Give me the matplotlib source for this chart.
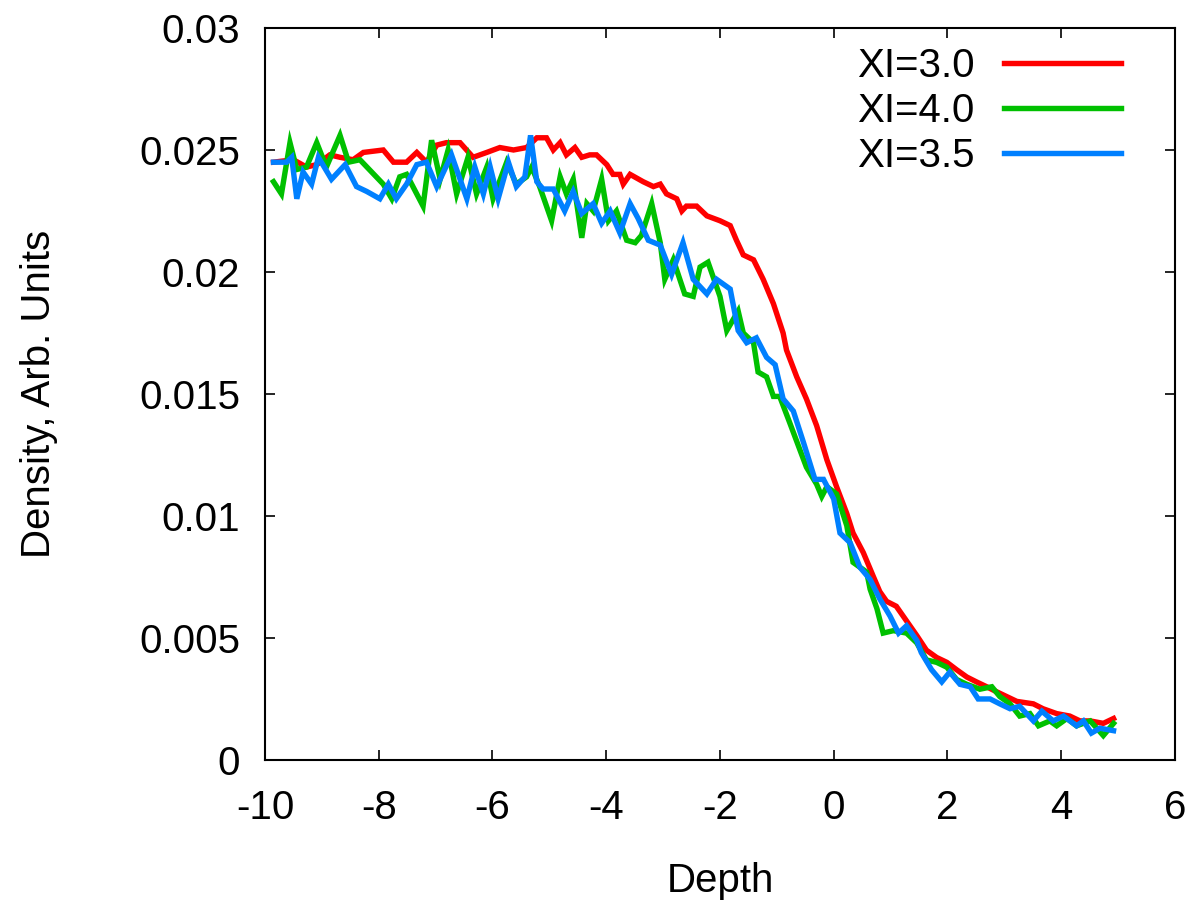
import matplotlib
matplotlib.use("Agg")
import matplotlib.pyplot as plt
from matplotlib.ticker import FuncFormatter

# --------------------------------------------------
# Data
# --------------------------------------------------
x_red = [-9.85, -9.50, -9.27, -9.09, -8.86, -8.68, -8.45, -8.27, -7.92, -7.74,
         -7.51, -7.33, -7.16, -6.98, -6.81, -6.57, -6.34, -6.10, -5.87, -5.63,
         -5.40, -5.22, -5.05, -4.93, -4.81, -4.70, -4.55, -4.43, -4.29, -4.17,
         -3.99, -3.88, -3.76, -3.70, -3.58, -3.35, -3.17, -3.05, -2.94, -2.76,
         -2.67, -2.59, -2.41, -2.23, -2.00, -1.82, -1.71, -1.59, -1.41, -1.24,
         -1.06, -0.89, -0.83, -0.65, -0.48, -0.30, -0.12, 0.05, 0.23, 0.34,
         0.52, 0.70, 0.81, 0.93, 1.10, 1.28, 1.46, 1.63, 1.81, 1.99,
         2.16, 2.34, 2.51, 2.69, 2.86, 3.04, 3.22, 3.51, 3.68, 3.92,
         4.15, 4.33, 4.51, 4.74, 4.92]
y_red = [0.0245, 0.0246, 0.0243, 0.0244, 0.0248, 0.0247, 0.0246, 0.0249, 0.0250, 0.0245,
         0.0245, 0.0249, 0.0245, 0.0252, 0.0253, 0.0253, 0.0247, 0.0249, 0.0251, 0.0250,
         0.0251, 0.0255, 0.0255, 0.0250, 0.0253, 0.0248, 0.0251, 0.0247, 0.0248, 0.0248,
         0.0244, 0.0240, 0.0240, 0.0236, 0.0240, 0.0237, 0.0235, 0.0236, 0.0232, 0.0230,
         0.0225, 0.0227, 0.0227, 0.0223, 0.0221, 0.0219, 0.0213, 0.0207, 0.0205, 0.0197,
         0.0187, 0.0175, 0.0168, 0.0157, 0.0148, 0.0137, 0.0123, 0.0112, 0.0101, 0.0093,
         0.0085, 0.0075, 0.0069, 0.0065, 0.0063, 0.0057, 0.0051, 0.0045, 0.0042, 0.0040,
         0.0037, 0.0034, 0.0032, 0.0030, 0.0028, 0.0026, 0.0024, 0.0023, 0.0021, 0.0019,
         0.0018, 0.0016, 0.0016, 0.0015, 0.0017]

x_green = [-9.85, -9.71, -9.56, -9.44, -9.27, -9.09, -8.92, -8.68, -8.53, -8.33,
           -7.92, -7.77, -7.63, -7.51, -7.22, -7.07, -6.92, -6.78, -6.63, -6.43,
           -6.28, -6.10, -5.99, -5.75, -5.58, -5.40, -5.31, -5.17, -4.96, -4.81,
           -4.70, -4.58, -4.43, -4.34, -4.23, -4.08, -3.96, -3.82, -3.64, -3.49,
           -3.38, -3.20, -3.05, -2.97, -2.82, -2.62, -2.47, -2.35, -2.21, -2.00,
           -1.88, -1.68, -1.59, -1.41, -1.33, -1.18, -1.06, -0.95, -0.77, -0.48,
           -0.30, -0.21, -0.12, 0.05, 0.23, 0.34, 0.58, 0.64, 0.76, 0.87,
           1.05, 1.28, 1.46, 1.63, 1.81, 1.99, 2.16, 2.34, 2.57, 2.78,
           2.92, 3.10, 3.27, 3.45, 3.60, 3.80, 3.92, 4.10, 4.27, 4.51,
           4.74, 4.92]
y_green = [0.0237, 0.0232, 0.0253, 0.0242, 0.0243, 0.0253, 0.0243, 0.0256, 0.0245, 0.0246,
           0.0236, 0.0230, 0.0239, 0.0240, 0.0227, 0.0254, 0.0238, 0.0250, 0.0232, 0.0247,
           0.0232, 0.0243, 0.0230, 0.0245, 0.0236, 0.0239, 0.0243, 0.0235, 0.0221, 0.0239,
           0.0232, 0.0238, 0.0214, 0.0228, 0.0225, 0.0238, 0.0221, 0.0225, 0.0213, 0.0212,
           0.0215, 0.0228, 0.0212, 0.0197, 0.0205, 0.0191, 0.0190, 0.0202, 0.0204, 0.0190,
           0.0176, 0.0184, 0.0175, 0.0171, 0.0159, 0.0157, 0.0149, 0.0149, 0.0138, 0.0120,
           0.0113, 0.0108, 0.0112, 0.0109, 0.0096, 0.0081, 0.0077, 0.0070, 0.0062, 0.0052,
           0.0053, 0.0052, 0.0048, 0.0041, 0.0040, 0.0038, 0.0033, 0.0031, 0.0029, 0.0030,
           0.0026, 0.0023, 0.0018, 0.0019, 0.0014, 0.0016, 0.0014, 0.0017, 0.0014, 0.0016,
           0.0010, 0.0015]

x_blue = [-9.85, -9.62, -9.53, -9.44, -9.33, -9.18, -9.06, -8.83, -8.59, -8.39,
          -8.21, -7.98, -7.83, -7.69, -7.51, -7.33, -7.16, -6.98, -6.72, -6.45,
          -6.31, -6.16, -6.04, -5.90, -5.72, -5.58, -5.43, -5.33, -5.22, -5.11,
          -4.93, -4.73, -4.58, -4.43, -4.23, -4.08, -3.93, -3.76, -3.58, -3.44,
          -3.26, -3.05, -2.85, -2.65, -2.47, -2.23, -2.06, -1.82, -1.68, -1.53,
          -1.36, -1.18, -1.03, -0.89, -0.71, -0.53, -0.33, -0.18, 0.00, 0.11,
          0.29, 0.46, 0.64, 0.81, 0.99, 1.14, 1.28, 1.46, 1.54, 1.72,
          1.90, 2.04, 2.22, 2.40, 2.54, 2.75, 2.92, 3.10, 3.27, 3.51,
          3.66, 3.86, 4.04, 4.27, 4.39, 4.53, 4.68, 4.92]
y_blue = [0.0245, 0.0245, 0.0247, 0.0230, 0.0241, 0.0236, 0.0247, 0.0238, 0.0244, 0.0235,
          0.0233, 0.0230, 0.0236, 0.0230, 0.0236, 0.0244, 0.0245, 0.0235, 0.0248, 0.0230,
          0.0243, 0.0232, 0.0243, 0.0230, 0.0245, 0.0235, 0.0239, 0.0256, 0.0237, 0.0234,
          0.0234, 0.0225, 0.0233, 0.0224, 0.0228, 0.0220, 0.0225, 0.0216, 0.0228, 0.0222,
          0.0213, 0.0211, 0.0199, 0.0212, 0.0197, 0.0191, 0.0197, 0.0193, 0.0176, 0.0171,
          0.0173, 0.0165, 0.0162, 0.0148, 0.0143, 0.0130, 0.0115, 0.0115, 0.0107, 0.0093,
          0.0089, 0.0079, 0.0074, 0.0066, 0.0059, 0.0052, 0.0055, 0.0049, 0.0044, 0.0037,
          0.0032, 0.0036, 0.0031, 0.0030, 0.0025, 0.0025, 0.0023, 0.0021, 0.0022, 0.0016,
          0.0020, 0.0016, 0.0018, 0.0014, 0.0016, 0.0011, 0.0013, 0.0012]

labels = ["XI=3.0", "XI=4.0", "XI=3.5"]
colors = ["#ff0000", "#00c000", "#0080ff"]
x_ticks = [-10, -8, -6, -4, -2, 0, 2, 4, 6]
y_ticks = [0, 0.005, 0.01, 0.015, 0.02, 0.025, 0.03]

# --------------------------------------------------
# Plot
# --------------------------------------------------
plt.rcParams["font.family"] = ["Liberation Sans", "DejaVu Sans"]
plt.rcParams["font.size"] = 29

fig = plt.figure(figsize=(11.86, 9.0), dpi=100)
ax = fig.add_axes([0.2234, 0.1556, 0.7673, 0.8133])

for xs, ys, lab, col in zip([x_red, x_green, x_blue],
                            [y_red, y_green, y_blue], labels, colors):
    ax.plot(xs, ys, color=col, lw=3.9, label=lab,
            solid_joinstyle="miter")

ax.set_xlim(-10, 6)
ax.set_ylim(0, 0.03)
ax.set_xticks(x_ticks)
ax.set_yticks(y_ticks)
ax.yaxis.set_major_formatter(FuncFormatter(lambda v, p: "%g" % v))
ax.xaxis.set_major_formatter(FuncFormatter(lambda v, p: "%g" % v))

ax.tick_params(direction="in", length=7, width=1.2, top=True, right=True,
               labelsize=29)
ax.tick_params(axis="y", pad=18)
ax.tick_params(axis="x", pad=21)
for s in ax.spines.values():
    s.set_linewidth(1.5)

ax.set_xlabel("Depth", fontsize=29, labelpad=25)
ax.set_ylabel("Density, Arb. Units", fontsize=29, labelpad=58)

ax.legend(loc="upper right", bbox_to_anchor=(0.972, 1.012),
          frameon=False, markerfirst=False,
          handlelength=2.9, handletextpad=0.75, labelspacing=0.17,
          borderaxespad=0.3, fontsize=29)

fig.savefig("out.png", dpi=100)
